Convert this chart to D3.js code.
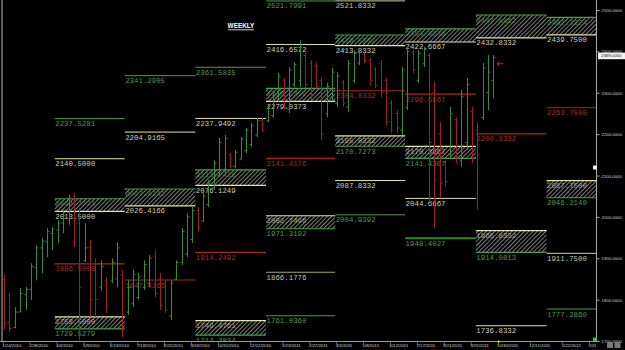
<!DOCTYPE html>
<html><head><meta charset="utf-8">
<script src="https://cdn.jsdelivr.net/npm/d3@7"></script>
<style>html,body{margin:0;padding:0;background:#000;overflow:hidden}</style>
</head><body><svg id="c" width="625" height="350"></svg>
<script>
// ---------- DATA ----------
const firstWeek = "2010-01-25";
const barOpen  = [1848,1745,1733,1770,1812,1825,1878,1925,1940,1960,
                  1968,1985,2010,2045,1985,1895,1925,1870,1830,1845,
                  1845,1850,1860,1770,1790,1805,1830,1840,1905,1850,
                  1840,1760,1850,1890,1910,1945,2015,1990,2030,2070,
                  2100,2115,2150,2122,2140,2160,2175,2198,2232,2232,
                  2245,2285,2330,2260,2320,2330,2390,2370,2365,2330,
                  2250,2290,2275,2325,2265,2330,2372,2392,2378,2355,
                  2370,2330,2275,2250,2210,2265,2398,2330,2370,2390,
                  2300,2200,2130,2150,2235,2135,2180,2255,2210,2240,
                  2300,2330];
const barHigh  = [1860,1816,1782,1828,1830,1888,1932,1949,1973,1976,
                  1992,2017,2053,2058,2022,1985,1944,1900,1895,1855,
                  1900,1939,1872,1847,1872,1864,1895,1908,1920,1864,
                  1847,1847,1895,1973,2009,2024,2024,2058,2089,2137,
                  2191,2198,2154,2162,2193,2215,2227,2239,2239,2270,
                  2299,2348,2336,2362,2374,2427,2396,2379,2374,2338,
                  2324,2360,2350,2331,2379,2403,2403,2396,2384,2362,
                  2379,2336,2282,2258,2362,2411,2403,2403,2411,2396,
                  2326,2229,2137,2266,2241,2307,2336,2266,2229,2372,
                  2391,2391];
const barLow   = [1727,1722,1731,1770,1775,1799,1847,1864,1903,1920,
                  1937,1961,1981,1927,1702,1891,1758,1758,1823,1768,
                  1840,1830,1710,1763,1782,1799,1823,1830,1806,1775,
                  1768,1751,1847,1884,1903,1937,1963,1988,2024,2065,
                  2096,2108,2118,2118,2137,2154,2169,2193,2205,2229,
                  2239,2278,2258,2251,2314,2314,2311,2282,2307,2186,
                  2241,2282,2266,2266,2253,2324,2367,2372,2319,2311,
                  2290,2222,2203,2203,2198,2258,2348,2324,2362,2034,
                  1973,2048,2072,2145,2130,2121,2162,2130,2017,2234,
                  2258,2287];
const barClose = [1741,1730,1770,1815,1825,1880,1925,1942,1965,1970,
                  1985,2010,2045,1985,1830,1925,1800,1800,1880,1785,
                  1890,1925,1730,1830,1860,1855,1885,1900,1815,1785,
                  1775,1840,1890,1965,2000,2015,1975,2050,2080,2130,
                  2180,2190,2122,2155,2188,2210,2220,2232,2210,2262,
                  2292,2340,2265,2355,2368,2415,2320,2295,2315,2200,
                  2315,2350,2340,2275,2370,2395,2398,2378,2330,2318,
                  2300,2230,2210,2215,2355,2400,2355,2395,2405,2180,
                  2090,2080,2085,2250,2140,2290,2320,2140,2150,2360,
                  2350,2385];

const quarterStarts = ["2010-04-01","2010-07-01","2010-10-01","2011-01-01","2011-04-01",
                       "2011-07-01","2011-10-01","2012-01-01","2012-04-01"];

const lineQuarter = [0,0,0, 1,1,1, 2,2,2, 3,3,3,3,3, 4,4,4,4, 5,5,5, 6,6, 7,7,7];
const lineValue = [2237.5281,2140.5000,1886.5000,
                   2341.2905,2204.9165,1847.4166,
                   2361.5835,2237.9492,1914.2492,
                   2521.7991,2416.6572,2141.4176,1866.1776,1761.0360,
                   2521.8332,2304.8332,2087.8332,2004.9392,
                   2296.6667,2044.6667,1948.4027,
                   2200.8332,1736.8332,
                   2263.7500,1911.7500,1777.2860];
const lineKind = ["green","yellow","red",
                  "green","yellow","red",
                  "green","yellow","red",
                  "green","yellow","red","olive","green",
                  "olive","red","yellow","green",
                  "red","yellow","dkgreen",
                  "red","yellow",
                  "red","olive","green"];

const boxQuarter = [0,0,1,2,2,3,3,4,4,5,5,6,6,7,7];
const boxTop     = [2043.7723,1758.5000,2067.4242,2113.7428,1749.4761,2310.7356,2002.7496,
                    2439.5332,2195.8332,2454.4038,2170.3667,2487.8862,1966.8332,2482.3324,2087.7500];
const boxBottom  = [2013.5000,1729.5279,2026.4166,2076.1249,1714.2834,2279.0373,1971.3192,
                    2413.8332,2170.7273,2422.6667,2141.4307,2432.8332,1914.0813,2439.7500,2046.2140];
const boxTopKind = ["green","yellow","green","green","yellow","green","yellow",
                    "green","yellow","green","yellow","green","yellow","green","yellow"];
const boxBottomKind = ["yellow","green","yellow","yellow","green","yellow","green",
                       "yellow","green","yellow","green","yellow","green","yellow","green"];

const yTicks = [2500,2400,2300,2200,2100,2000,1900,1800,1700];
const xTickLabels = ["1/24/2010","2/28/2010","4/4/2010","5/9/2010","6/13/2010","7/18/2010","8/22/2010",
  "9/26/2010","10/31/2010","12/12/2010","1/23/2011","2/27/2011","4/3/2011","5/8/2011","6/12/2011",
  "7/17/2011","8/21/2011","9/25/2011","10/30/2011","12/11/2011","1/22/2012","2/26/2012"];
const lastPrice = 2389.0;
const title = "WEEKLY";

// ---------- STYLES ----------
const lineColor = {green:"#45a045", yellow:"#e4e4a0", olive:"#a6a676", red:"#ac2626", dkgreen:"#2c862c"};
const textColor = {green:"#4f9a4f", yellow:"#cfcfb4", olive:"#c4c4b2", red:"#a03030", dkgreen:"#4f9a4f"};
const lineWidth = {green:1, yellow:1, olive:1.2, red:1.2, dkgreen:2};

// ---------- SCALES ----------
const parse = d3.timeParse("%Y-%m-%d");
const x = d3.scaleTime().domain([parse("2010-01-25"), parse("2012-01-01")]).range([4, 546.5]);
const y = d3.scaleLinear().domain([1700, 2500]).range([341, 10]);
const qx = quarterStarts.map(s => x(parse(s)));
const AX = 596;

const svg = d3.select("#c");
svg.append("rect").attr("width",625).attr("height",350).attr("fill","#000");

const defs = svg.append("defs");
const pat = defs.append("pattern").attr("id","hatch").attr("width",3).attr("height",3)
  .attr("patternUnits","userSpaceOnUse").attr("patternTransform","rotate(45)");
pat.append("rect").attr("width",3).attr("height",3).attr("fill","#000");
pat.append("line").attr("x1",0).attr("y1",0).attr("x2",0).attr("y2",3)
  .attr("stroke","#c0c0c0").attr("stroke-width",1.3);
defs.append("clipPath").attr("id","plot").append("rect").attr("x",0).attr("y",0).attr("width",AX).attr("height",341);
defs.append("clipPath").attr("id","xax").append("rect").attr("x",0).attr("y",341).attr("width",AX).attr("height",9);

const plot = svg.append("g").attr("clip-path","url(#plot)");
const FONT = "'Liberation Mono', 'DejaVu Sans Mono', monospace";
const colEnd = q => Math.min(qx[q+1], AX);

// boxes
boxQuarter.forEach((q,i) => {
  const x0 = qx[q], x1 = colEnd(q);
  const yt = y(boxTop[i]), yb = y(boxBottom[i]);
  plot.append("rect").attr("x",x0).attr("y",yt).attr("width",x1-x0).attr("height",yb-yt).attr("fill","url(#hatch)");
  plot.append("line").attr("x1",x0).attr("x2",x1).attr("y1",yt).attr("y2",yt)
    .attr("stroke",lineColor[boxTopKind[i]]).attr("stroke-width",1.2);
  plot.append("line").attr("x1",x0).attr("x2",x1).attr("y1",yb).attr("y2",yb)
    .attr("stroke",lineColor[boxBottomKind[i]]).attr("stroke-width",1.2);
  plot.append("text").attr("x",x0+0.5).attr("y",yt+7.5).text(boxTop[i].toFixed(4))
    .attr("fill",textColor[boxTopKind[i]]).attr("opacity",0.7).attr("font-family",FONT).attr("font-size",7.4);
  plot.append("text").attr("x",x0+0.5).attr("y",yb+7.5).text(boxBottom[i].toFixed(4))
    .attr("fill",textColor[boxBottomKind[i]]).attr("font-family",FONT).attr("font-size",7.4);
});

// single level lines
lineQuarter.forEach((q,i) => {
  const x0 = qx[q], x1 = colEnd(q), yy = y(lineValue[i]);
  const k = lineKind[i];
  plot.append("line").attr("x1",x0).attr("x2",x1).attr("y1",yy).attr("y2",yy)
    .attr("stroke",lineColor[k]).attr("stroke-width",lineWidth[k]);
  plot.append("text").attr("x",x0+0.5).attr("y",yy+7.5).text(lineValue[i].toFixed(4))
    .attr("fill",textColor[k]).attr("font-family",FONT).attr("font-size",7.4);
});

// bars
const w0 = parse(firstWeek);
const bars = barOpen.map((o,i) => ({d:d3.timeDay.offset(w0, i*7), o, h:barHigh[i], l:barLow[i], c:barClose[i]}));
const bg = plot.append("g");
bars.forEach(b => {
  const cx = Math.round(x(b.d)) + 0.5;
  const col = b.c >= b.o ? "#378a37" : "#9c2222";
  bg.append("line").attr("x1",cx).attr("x2",cx).attr("y1",y(b.h)).attr("y2",y(b.l)).attr("stroke",col).attr("stroke-width",1);
  bg.append("line").attr("x1",cx-2).attr("x2",cx).attr("y1",y(b.o)).attr("y2",y(b.o)).attr("stroke",col).attr("stroke-width",1);
  bg.append("line").attr("x1",cx).attr("x2",cx+2).attr("y1",y(b.c)).attr("y2",y(b.c)).attr("stroke",col).attr("stroke-width",1);
});

// red arrow near last bar
const lb = bars[bars.length-1];
const ax0 = x(lb.d) + 2, ay = y(2370);
plot.append("path").attr("d",`M${ax0+8},${ay} L${ax0+1.5},${ay} M${ax0+4},${ay-2} L${ax0+1.5},${ay} L${ax0+4},${ay+2}`)
  .attr("stroke","#c03030").attr("fill","none").attr("stroke-width",1);

// title
svg.append("text").attr("x",241).attr("y",28.3).attr("text-anchor","middle").text(title)
  .attr("fill","#fff").attr("font-family","'Liberation Sans', Arial, sans-serif").attr("font-weight","bold").attr("font-size",6.4);
svg.append("line").attr("x1",228).attr("x2",254).attr("y1",29.8).attr("y2",29.8).attr("stroke","#fff").attr("stroke-width",0.8);

// frame lines
svg.append("line").attr("x1",2).attr("x2",2).attr("y1",0).attr("y2",341).attr("stroke","#bbb").attr("stroke-width",1);
svg.append("line").attr("x1",AX+0.5).attr("x2",AX+0.5).attr("y1",0).attr("y2",341).attr("stroke","#aaa").attr("stroke-width",1);
svg.append("line").attr("x1",0).attr("x2",AX+1).attr("y1",341.5).attr("y2",341.5).attr("stroke","#999").attr("stroke-width",1);

// y axis
const yAxis = d3.axisRight(y).tickValues(yTicks).tickSize(3).tickFormat(d3.format(".4f"));
const ya = svg.append("g").attr("transform",`translate(${AX+0.5},0)`).call(yAxis);
ya.select(".domain").remove();
ya.selectAll("line").attr("stroke","#aaa");
ya.selectAll("text").attr("fill","#d0d0d0").attr("font-family","'Liberation Sans', Arial, sans-serif")
  .attr("font-size",4.3).attr("x",5).attr("dy","0.35em");

// last price tag
svg.append("rect").attr("x",598).attr("y",y(lastPrice)-3.3).attr("width",27).attr("height",6.6).attr("fill","#f2f2f2");
svg.append("text").attr("x",601).attr("y",y(lastPrice)+1.5).text(lastPrice.toFixed(4))
  .attr("fill","#222").attr("font-family","'Liberation Sans', Arial, sans-serif").attr("font-size",4.3);

// x axis labels
const xl = svg.append("g").attr("clip-path","url(#xax)");
const fmt = d3.timeParse("%m/%d/%Y");
xTickLabels.forEach(s => {
  const px = x(fmt(s));
  xl.append("line").attr("x1",px).attr("x2",px).attr("y1",342).attr("y2",344.5).attr("stroke","#999").attr("stroke-width",0.6);
  xl.append("text").attr("x",px-1).attr("y",347.3).text(s)
    .attr("fill","#d8d8d8").attr("font-family","'Liberation Sans', Arial, sans-serif").attr("font-size",4.3);
});
// current week marker on x axis
svg.append("rect").attr("x",x(fmt("10/30/2011"))).attr("y",340.5).attr("width",1.2).attr("height",2.5).attr("fill","#e8e060");

// small markers on right
svg.append("rect").attr("x",593).attr("y",165.5).attr("width",4).attr("height",4).attr("fill","#eee");
svg.append("rect").attr("x",593).attr("y",337.5).attr("width",4).attr("height",4).attr("fill","#3ec43e");
svg.append("rect").attr("x",607).attr("y",342).attr("width",6).attr("height",6).attr("fill","#777");
svg.append("rect").attr("x",614.5).attr("y",342).attr("width",6).attr("height",6).attr("fill","#777");
</script></body></html>
